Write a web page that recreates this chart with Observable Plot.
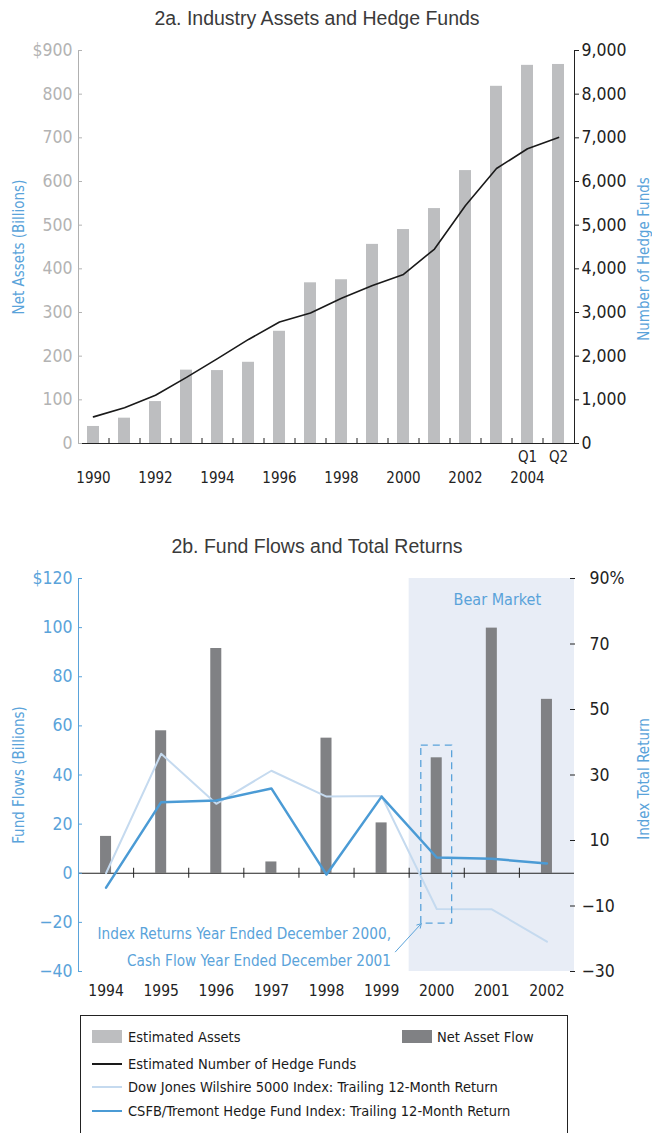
<!DOCTYPE html>
<html>
<head>
<meta charset="utf-8">
<script src="https://cdn.jsdelivr.net/npm/d3@7"></script>
<script src="https://cdn.jsdelivr.net/npm/@observablehq/plot@0.6"></script>
<style>
  html, body { margin: 0; padding: 0; background: #fff; }
  #wrap { position: relative; width: 652px; height: 1133px; overflow: hidden; background: #fff; }
  .title { position: absolute; left: 0; width: 634px; text-align: center; font-family: "Liberation Sans", Arial, sans-serif; font-size: 19.5px; line-height: 24px; color: #3a3a3a; }
  .chart { position: absolute; left: 0; }
  #legend { position: absolute; left: 80px; top: 1015px; width: 488px; height: 140px; border: 1px solid #222; box-sizing: border-box; font-family: "DejaVu Sans Condensed", "DejaVu Sans", sans-serif; font-stretch: condensed; font-size: 14.5px; color: #1a1a1a; }
  .li { position: absolute; white-space: nowrap; line-height: 20px; }
  .sw { position: absolute; }
  svg text { font-stretch: condensed; }
</style>
</head>
<body>
<div id="wrap">
  <div class="title" style="top:6px">2a. Industry Assets and Hedge Funds</div>
  <div class="title" style="top:534px">2b. Fund Flows and Total Returns</div>
  <div id="legend"></div>
</div>
<script>
// ---------- Data: chart 2a ----------
const periodsA = ["1990","1991","1992","1993","1994","1995","1996","1997","1998","1999","2000","2001","2002","2003","Q1 2004","Q2 2004"];
const estimatedAssets = [39, 58, 96, 168, 167, 186, 257, 368, 375, 456, 490, 538, 625, 818, 866, 868];
const hedgeFundCount = [610, 821, 1105, 1514, 1945, 2383, 2781, 2990, 3325, 3617, 3873, 4454, 5450, 6297, 6750, 7010];
const assetTicks = [0, 100, 200, 300, 400, 500, 600, 700, 800, 900];
const fundTicks = [0, 1000, 2000, 3000, 4000, 5000, 6000, 7000, 8000, 9000];

// ---------- Data: chart 2b ----------
const yearsB = [1994, 1995, 1996, 1997, 1998, 1999, 2000, 2001, 2002];
const netAssetFlow = [15, 58, 91.5, 4.6, 55, 20.5, 47, 99.8, 70.8];
const wilshireReturn = [0, 36.5, 21.2, 31.3, 23.4, 23.6, -10.9, -11.0, -20.9];
const csfbReturn = [-4.4, 21.7, 22.2, 25.9, -0.4, 23.4, 4.8, 4.4, 3.0];
const bearYears = [2000, 2001, 2002];
const flowTicks = [-40, -20, 0, 20, 40, 60, 80, 100, 120];
const returnTicks = [-30, -10, 10, 30, 50, 70, 90];
const highlightYear = 2000;
const highlightFlowRange = [-20.5, 52];
const annotationText = "Index Returns Year Ended December 2000,\nCash Flow Year Ended December 2001";
const bearLabel = "Bear Market";

// ---------- Legend ----------
const legendLabels = ["Estimated Assets", "Net Asset Flow", "Estimated Number of Hedge Funds",
  "Dow Jones Wilshire 5000 Index: Trailing 12-Month Return", "CSFB/Tremont Hedge Fund Index: Trailing 12-Month Return"];

// ---------- Styles ----------
const FONT = '"DejaVu Sans Condensed","DejaVu Sans",sans-serif';
const blue = "#5aa3da";
const lightGray = "#bdbec0";
const darkGray = "#808184";
const lightBlue = "#c5daef";
const midBlue = "#4b9bd5";
const ink = "#222";

// scale linking: returns (%) drawn on the flow axis
const retK = 4 / 3;
// fund count drawn on the asset axis
const fundK = 10;

const W = 652, ML = 78, MR = 78;
const stepA = (W - ML - MR) / periodsA.length;

const wrap = document.getElementById("wrap");

// ---------- Chart 2a ----------
const chartA = Plot.plot({
  width: W, height: 470,
  marginTop: 20, marginBottom: 57, marginLeft: ML, marginRight: MR,
  style: {fontFamily: FONT, fontSize: "17.5px", background: "transparent", overflow: "visible"},
  x: {type: "band", domain: periodsA, paddingInner: 0.6, paddingOuter: 0.3, axis: null},
  y: {domain: [0, 900], axis: null},
  marks: [
    Plot.barY(periodsA, {x: d => d, y: (d, i) => estimatedAssets[i], fill: lightGray}),
    Plot.ruleY([0], {stroke: ink, strokeWidth: 1.2}),
    Plot.ruleX(periodsA.slice(1), {x: d => d, dx: -stepA / 2, y1: 0, y2: 0, insetTop: -5, stroke: ink}),
    Plot.lineY(periodsA, {x: d => d, y: (d, i) => hedgeFundCount[i] / fundK, stroke: "#1a1a1a", strokeWidth: 1.6}),
    Plot.frame({anchor: "left", stroke: "#b0b0b0"}),
    Plot.frame({anchor: "right", stroke: ink}),
    Plot.axisY(assetTicks, {anchor: "left", tickSize: -4, tickPadding: 10, color: "#b3b3b3",
      tickFormat: d => d === 900 ? "$900" : String(d)}),
    Plot.axisY(fundTicks.map(f => f / fundK), {anchor: "right", tickSize: 4, tickPadding: 3, color: ink,
      tickFormat: d => d3.format(",")(Math.round(d * fundK))}),
    Plot.axisX(periodsA, {anchor: "bottom", tickSize: 0, tickPadding: 29, fontSize: 15, color: ink,
      tickFormat: d => d === "Q1 2004" ? "2004" : (/^\d+$/.test(d) && +d % 2 === 0 ? d : "")}),
    Plot.axisX(periodsA, {anchor: "bottom", tickSize: 0, tickPadding: 8, fontSize: 15, color: ink,
      tickFormat: d => d.startsWith("Q") ? d.slice(0, 2) : ""}),
    Plot.text(["Net Assets (Billions)"], {frameAnchor: "left", textAnchor: "middle", dx: -59, rotate: -90, fill: blue, fontSize: 15}),
    Plot.text(["Number of Hedge Funds"], {frameAnchor: "right", textAnchor: "middle", dx: 70, dy: 12, rotate: -90, fill: blue, fontSize: 15})
  ]
});
chartA.classList.add("chart");
chartA.style.top = "30px";
wrap.appendChild(chartA);

// ---------- Chart 2b ----------
const half = 0.1;
const chartB = Plot.plot({
  width: W, height: 450,
  marginTop: 23, marginBottom: 34, marginLeft: ML, marginRight: MR,
  style: {fontFamily: FONT, fontSize: "17.5px", background: "transparent", overflow: "visible"},
  x: {domain: [yearsB[0] - 0.5, yearsB[yearsB.length - 1] + 0.5], axis: null},
  y: {domain: [-40, 120], axis: null},
  marks: [
    Plot.rect([bearYears], {x1: d => d[0] - 0.5, x2: d => d[d.length - 1] + 0.5, y1: -40, y2: 120, fill: "#e8edf6"}),
    Plot.rectY(yearsB, {x1: d => d - half, x2: d => d + half, y1: 0, y2: (d, i) => netAssetFlow[i], fill: darkGray}),
    Plot.ruleY([0], {stroke: ink, strokeWidth: 1.2}),
    Plot.ruleX(yearsB.slice(1).map(y => y - 0.5), {x: d => d, y1: 0, y2: 0, insetTop: -5, insetBottom: -5, stroke: ink}),
    Plot.lineY(yearsB, {x: d => d, y: (d, i) => wilshireReturn[i] * retK, stroke: lightBlue, strokeWidth: 2}),
    Plot.lineY(yearsB, {x: d => d, y: (d, i) => csfbReturn[i] * retK, stroke: midBlue, strokeWidth: 2.5}),
    Plot.rect([highlightYear], {x1: d => d - 0.28, x2: d => d + 0.28, y1: highlightFlowRange[0], y2: highlightFlowRange[1],
      fill: "none", stroke: blue, strokeWidth: 1.3, strokeDasharray: "7,5"}),
    Plot.arrow([highlightYear], {x1: d => d - 0.75, y1: -32, x2: d => d - 0.28, y2: highlightFlowRange[0],
      stroke: blue, strokeWidth: 1, headLength: 7}),
    Plot.text([annotationText], {x: highlightYear - 0.83, y: -28.8, text: d => d, textAnchor: "end", lineHeight: 1.75, fill: blue, fontSize: 15.2}),
    Plot.text([bearLabel], {x: 2001.1, y: 111.2, text: d => d, fill: blue, fontSize: 16}),
    Plot.frame({anchor: "left", stroke: blue}),
    Plot.axisY(flowTicks, {anchor: "left", tickSize: -4, tickPadding: 10, color: blue,
      tickFormat: d => d === 120 ? "$120" : (d < 0 ? "\u2212" + Math.abs(d) : String(d))}),
    Plot.axisY(returnTicks.filter(r => r >= 0).map(r => r * retK), {anchor: "right", tickSize: -5, tickPadding: 20, color: ink,
      tickFormat: d => { const r = Math.round(d / retK); return r === 90 ? "90%" : String(r); }}),
    Plot.axisY(returnTicks.filter(r => r < 0).map(r => r * retK), {anchor: "right", tickSize: -5, tickPadding: 12, color: ink,
      tickFormat: d => "\u2212" + Math.abs(Math.round(d / retK))}),
    Plot.axisX(yearsB, {anchor: "bottom", tickSize: 0, tickPadding: 13, fontSize: 15.5, color: ink, tickFormat: d => String(d)}),
    Plot.text(["Fund Flows (Billions)"], {frameAnchor: "left", textAnchor: "middle", dx: -59, rotate: -90, fill: blue, fontSize: 15}),
    Plot.text(["Index Total Return"], {frameAnchor: "right", textAnchor: "middle", dx: 70, dy: 4, rotate: -90, fill: blue, fontSize: 15})
  ]
});
chartB.classList.add("chart");
chartB.style.top = "555px";
wrap.appendChild(chartB);

// ---------- Legend (HTML) ----------
const legend = document.getElementById("legend");
function addSwatch(left, top, w, h, color) {
  const s = document.createElement("div");
  s.className = "sw";
  Object.assign(s.style, {left: left + "px", top: top + "px", width: w + "px", height: h + "px", background: color});
  legend.appendChild(s);
}
function addLabel(left, centerY, text) {
  const t = document.createElement("div");
  t.className = "li";
  t.textContent = text;
  Object.assign(t.style, {left: left + "px", top: (centerY - 10) + "px"});
  legend.appendChild(t);
}
const rowY = [21, 48, 71, 95];
addSwatch(11, rowY[0] - 7, 30, 13, lightGray); addLabel(47, rowY[0], legendLabels[0]);
addSwatch(321, rowY[0] - 7, 30, 13, darkGray); addLabel(356, rowY[0], legendLabels[1]);
addSwatch(11, rowY[1] - 1, 30, 2, "#1a1a1a"); addLabel(47, rowY[1], legendLabels[2]);
addSwatch(11, rowY[2] - 1, 30, 2, lightBlue); addLabel(47, rowY[2], legendLabels[3]);
addSwatch(11, rowY[3] - 1, 30, 2, midBlue); addLabel(47, rowY[3], legendLabels[4]);
</script>
</body>
</html>
